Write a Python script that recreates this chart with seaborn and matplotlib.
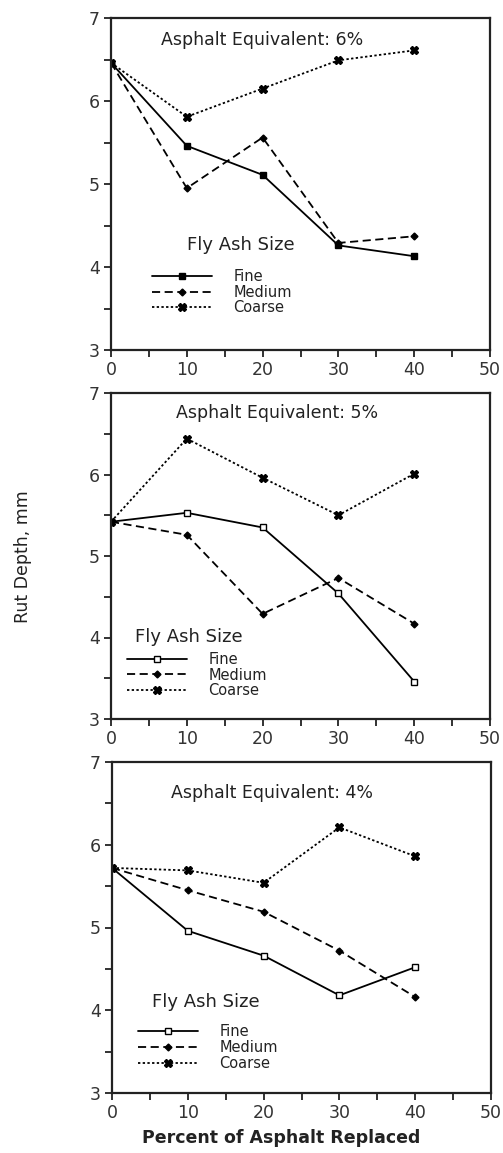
import matplotlib
matplotlib.use("Agg")
import matplotlib.pyplot as plt
import seaborn as sns
import pandas as pd
from matplotlib.ticker import MultipleLocator

# ---------------- data ----------------
percent_replaced = [0, 10, 20, 30, 40]
sizes = ["Fine", "Medium", "Coarse"]
panel_titles = ["Asphalt Equivalent: 6%", "Asphalt Equivalent: 5%", "Asphalt Equivalent: 4%"]

fine_6 = [6.46, 5.46, 5.11, 4.26, 4.13]
medium_6 = [6.46, 4.95, 5.56, 4.29, 4.37]
coarse_6 = [6.46, 5.81, 6.15, 6.49, 6.61]

fine_5 = [5.42, 5.53, 5.35, 4.54, 3.46]
medium_5 = [5.42, 5.26, 4.29, 4.73, 4.17]
coarse_5 = [5.42, 6.44, 5.96, 5.50, 6.01]

fine_4 = [5.72, 4.96, 4.66, 4.18, 4.52]
medium_4 = [5.72, 5.45, 5.19, 4.72, 4.16]
coarse_4 = [5.72, 5.69, 5.54, 6.21, 5.86]

x_ticks = [0, 10, 20, 30, 40, 50]
y_ticks = [3, 4, 5, 6, 7]
x_label = "Percent of Asphalt Replaced"
y_label = "Rut Depth, mm"
legend_title = "Fly Ash Size"

panels = [
    {"Fine": fine_6, "Medium": medium_6, "Coarse": coarse_6},
    {"Fine": fine_5, "Medium": medium_5, "Coarse": coarse_5},
    {"Fine": fine_4, "Medium": medium_4, "Coarse": coarse_4},
]

# ---------------- style ----------------
sns.set_style("ticks")
plt.rcParams["font.family"] = ["DejaVu Sans"]
plt.rcParams["text.color"] = "#222222"

W, H = 503, 1153
fig = plt.figure(figsize=(W / 100, H / 100), dpi=100)

# axes boxes in pixels: left, right, top, bottom
boxes = [(111, 490, 18, 350), (111, 490, 393, 719), (112, 491, 762, 1093)]
title_pos = [(0.40, 0.934), (0.438, 0.939), (0.421, 0.906)]
leg_pos = [(0.108, 0.244), (0.042, 0.206), (0.068, 0.208)]
legtitle_pos = [(0.20, 0.316), (0.063, 0.252), (0.105, 0.275)]
fine_fill = ["black", "white", "white"]

line_styles = {
    "Fine": dict(linestyle="-", marker="s", ms=4.5),
    "Medium": dict(linestyle=(0, (4.5, 2.5)), marker="D", ms=3.5),
    "Coarse": dict(linestyle=(0, (1.3, 1.3)), marker="X", ms=5.5),
}

for i, (data, box) in enumerate(zip(panels, boxes)):
    l, r, t, b = box
    ax = fig.add_axes([l / W, 1 - b / H, (r - l) / W, (b - t) / H])
    for s in sizes:
        df = pd.DataFrame({"x": percent_replaced, "y": data[s]})
        st = dict(line_styles[s])
        mfc = fine_fill[i] if s == "Fine" else "black"
        sns.lineplot(data=df, x="x", y="y", ax=ax, color="black", lw=1.3,
                     mfc=mfc, mec="black", mew=1.0, label=s, **st)
    ax.set_xlim(0, 50)
    ax.set_ylim(3, 7)
    ax.set_xticks(x_ticks)
    ax.set_yticks(y_ticks)
    ax.xaxis.set_minor_locator(MultipleLocator(5))
    ax.yaxis.set_minor_locator(MultipleLocator(0.5))
    ax.tick_params(which="both", direction="out", length=5, width=1.3, color="#222222",
                   labelsize=12.5, labelcolor="#333333", pad=3)
    for sp in ax.spines.values():
        sp.set_visible(True)
        sp.set_linewidth(1.6)
        sp.set_color("#222222")
    ax.set_xlabel("")
    ax.set_ylabel("")
    ax.text(*title_pos[i], panel_titles[i], transform=ax.transAxes, ha="center",
            va="center", fontsize=12.5)
    ax.text(*legtitle_pos[i], legend_title, transform=ax.transAxes, ha="left",
            va="center", fontsize=13)
    ax.legend(loc="upper left", bbox_to_anchor=leg_pos[i], frameon=False,
              fontsize=10.5, handlelength=4.1, handletextpad=1.5, labelspacing=0.05,
              borderpad=0, borderaxespad=0, numpoints=1)

fig.text(281 / W, 1 - 1138 / H, x_label, ha="center", va="center",
         fontsize=12.5, fontweight="bold", color="#222222")
fig.text(23 / W, 1 - 557 / H, y_label, rotation=90, ha="center", va="center",
         fontsize=12.5, color="#222222")

fig.savefig("out.png", dpi=100)
